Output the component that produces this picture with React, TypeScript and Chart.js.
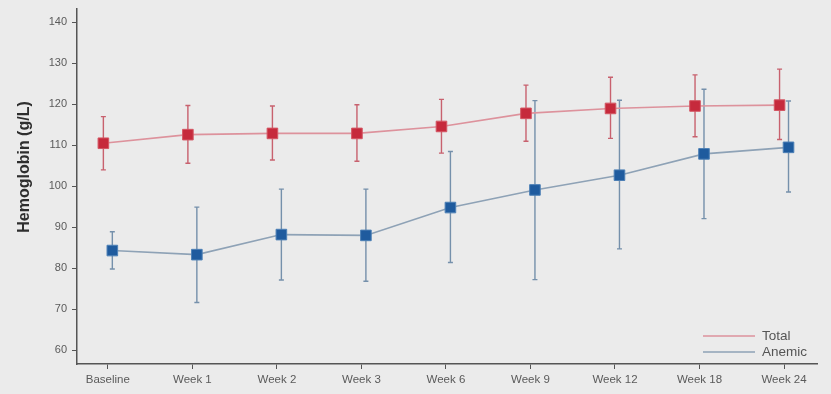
import React, { useEffect, useRef } from "react";
import { Chart, registerables } from "chart.js";

Chart.register(...registerables);

const categories = ["Baseline", "Week 1", "Week 2", "Week 3", "Week 6", "Week 9", "Week 12", "Week 18", "Week 24"];
const totalMean = [110.5, 112.6, 112.9, 112.9, 114.6, 117.8, 119.0, 119.6, 119.8];
const totalLow = [104.0, 105.6, 106.4, 106.1, 108.1, 111.0, 111.7, 112.1, 111.4];
const totalHigh = [117.0, 119.7, 119.6, 119.9, 121.2, 124.7, 126.6, 127.2, 128.6];
const anemicMean = [84.3, 83.3, 88.2, 88.0, 94.8, 99.1, 102.7, 107.9, 109.5];
const anemicLow = [79.8, 71.6, 77.1, 76.8, 81.4, 77.2, 84.7, 92.1, 98.6];
const anemicHigh = [88.9, 94.9, 99.3, 99.3, 108.5, 120.9, 121.0, 123.7, 120.8];
const yTicks = [60, 70, 80, 90, 100, 110, 120, 130, 140];
const seriesNames = ["Total", "Anemic"];
const dodge = 0.053;

const RED_LINE = "#dd929c";
const RED_BAR = "#c8616e";
const RED_FILL = "#c62a3c";
const RED_BORDER = "#d45663";
const BLUE_LINE = "#8ea2b6";
const BLUE_BAR = "#7590ab";
const BLUE_FILL = "#1f5b9e";
const BLUE_BORDER = "#4d80b6";

const errorBarPlugin = {
  id: "errorBars",
  beforeDatasetsDraw(chart: any) {
    const { ctx, scales } = chart;
    const x = scales.x;
    const y = scales.y;
    chart.data.datasets.forEach((ds: any) => {
      const lows: number[] = ds.errLow;
      const highs: number[] = ds.errHigh;
      ctx.save();
      ctx.strokeStyle = ds.errColor;
      ctx.lineWidth = 1.4;
      ds.data.forEach((pt: any, i: number) => {
        const px = x.getPixelForValue(pt.x);
        const pl = y.getPixelForValue(lows[i]);
        const ph = y.getPixelForValue(highs[i]);
        ctx.beginPath();
        ctx.moveTo(px, pl);
        ctx.lineTo(px, ph);
        ctx.moveTo(px - 2.5, pl);
        ctx.lineTo(px + 2.5, pl);
        ctx.moveTo(px - 2.5, ph);
        ctx.lineTo(px + 2.5, ph);
        ctx.stroke();
      });
      ctx.restore();
    });
  },
};

const decorPlugin = {
  id: "decor",
  afterDraw(chart: any) {
    const { ctx, chartArea } = chart;
    ctx.save();
    // y-axis title
    ctx.translate(25, 167);
    ctx.rotate(-Math.PI / 2);
    ctx.fillStyle = "#2e2e2e";
    ctx.font = "bold 16px 'Liberation Sans', Arial, sans-serif";
    ctx.textAlign = "center";
    ctx.textBaseline = "middle";
    ctx.fillText("Hemoglobin (g/L)", 0, 0);
    ctx.restore();

    // legend
    ctx.save();
    const lineStart = chartArea.right - 114;
    const lineEnd = chartArea.right - 62;
    const textX = chartArea.right - 55;
    const rows = [chartArea.bottom - 28, chartArea.bottom - 12];
    chart.data.datasets.forEach((ds: any, i: number) => {
      const yy = rows[i];
      ctx.strokeStyle = ds.borderColor;
      ctx.lineWidth = 1.6;
      ctx.beginPath();
      ctx.moveTo(lineStart, yy);
      ctx.lineTo(lineEnd, yy);
      ctx.stroke();
      ctx.fillStyle = "#555";
      ctx.font = "13.5px 'Liberation Sans', Arial, sans-serif";
      ctx.textAlign = "left";
      ctx.textBaseline = "middle";
      ctx.fillText(ds.label, textX, yy);
    });
    ctx.restore();
  },
};

export default function App() {
  const ref = useRef<HTMLCanvasElement>(null);

  useEffect(() => {
    document.body.style.margin = "0";
    document.body.style.background = "#ebebeb";
    const canvas = ref.current;
    if (!canvas) return;

    const chart = new Chart(canvas, {
      type: "line",
      data: {
        datasets: [
          {
            label: seriesNames[0],
            data: totalMean.map((v, i) => ({ x: i - dodge, y: v })),
            borderColor: RED_LINE,
            borderWidth: 1.6,
            pointStyle: "rect",
            pointRadius: 7.5,
            pointBackgroundColor: RED_FILL,
            pointBorderColor: RED_BORDER,
            pointBorderWidth: 1,
            tension: 0,
            errLow: totalLow,
            errHigh: totalHigh,
            errColor: RED_BAR,
          } as any,
          {
            label: seriesNames[1],
            data: anemicMean.map((v, i) => ({ x: i + dodge, y: v })),
            borderColor: BLUE_LINE,
            borderWidth: 1.6,
            pointStyle: "rect",
            pointRadius: 7.5,
            pointBackgroundColor: BLUE_FILL,
            pointBorderColor: BLUE_BORDER,
            pointBorderWidth: 1,
            tension: 0,
            errLow: anemicLow,
            errHigh: anemicHigh,
            errColor: BLUE_BAR,
          } as any,
        ],
      },
      options: {
        animation: false,
        responsive: false,
        events: [],
        layout: { padding: { top: 2, right: 14, left: 0, bottom: 0 } },
        plugins: { legend: { display: false }, tooltip: { enabled: false } },
        scales: {
          x: {
            type: "linear",
            min: -0.365,
            max: 8.39,
            afterBuildTicks: (scale: any) => {
              scale.ticks = categories.map((_, i) => ({ value: i }));
            },
            afterFit: (scale: any) => {
              scale.height = 30;
              scale.paddingLeft = 0;
              scale.paddingRight = 0;
            },
            ticks: {
              autoSkip: false,
              maxRotation: 0,
              padding: 4,
              color: "#5a5a5a",
              font: { size: 11.5, family: "'Liberation Sans', Arial, sans-serif" },
              callback: (v: any) => categories[Math.round(Number(v))] ?? "",
            },
            grid: { drawOnChartArea: false, drawTicks: true, tickLength: 5, tickColor: "#555", tickWidth: 1 },
            border: { color: "#555", width: 1.5 },
          },
          y: {
            type: "linear",
            min: 56.6,
            max: 143.4,
            afterBuildTicks: (scale: any) => {
              scale.ticks = yTicks.map((v) => ({ value: v }));
            },
            afterFit: (scale: any) => {
              scale.width = 77;
              scale.paddingTop = 0;
              scale.paddingBottom = 0;
            },
            ticks: {
              padding: 5,
              color: "#5a5a5a",
              font: { size: 11, family: "'Liberation Sans', Arial, sans-serif" },
            },
            grid: { drawOnChartArea: false, drawTicks: true, tickLength: 5, tickColor: "#555", tickWidth: 1 },
            border: { color: "#555", width: 1.5 },
          },
        },
      },
      plugins: [errorBarPlugin, decorPlugin],
    });

    return () => chart.destroy();
  }, []);

  return (
    <div style={{ width: 831, height: 394, background: "#ebebeb" }}>
      <canvas ref={ref} width={831} height={394} />
    </div>
  );
}
